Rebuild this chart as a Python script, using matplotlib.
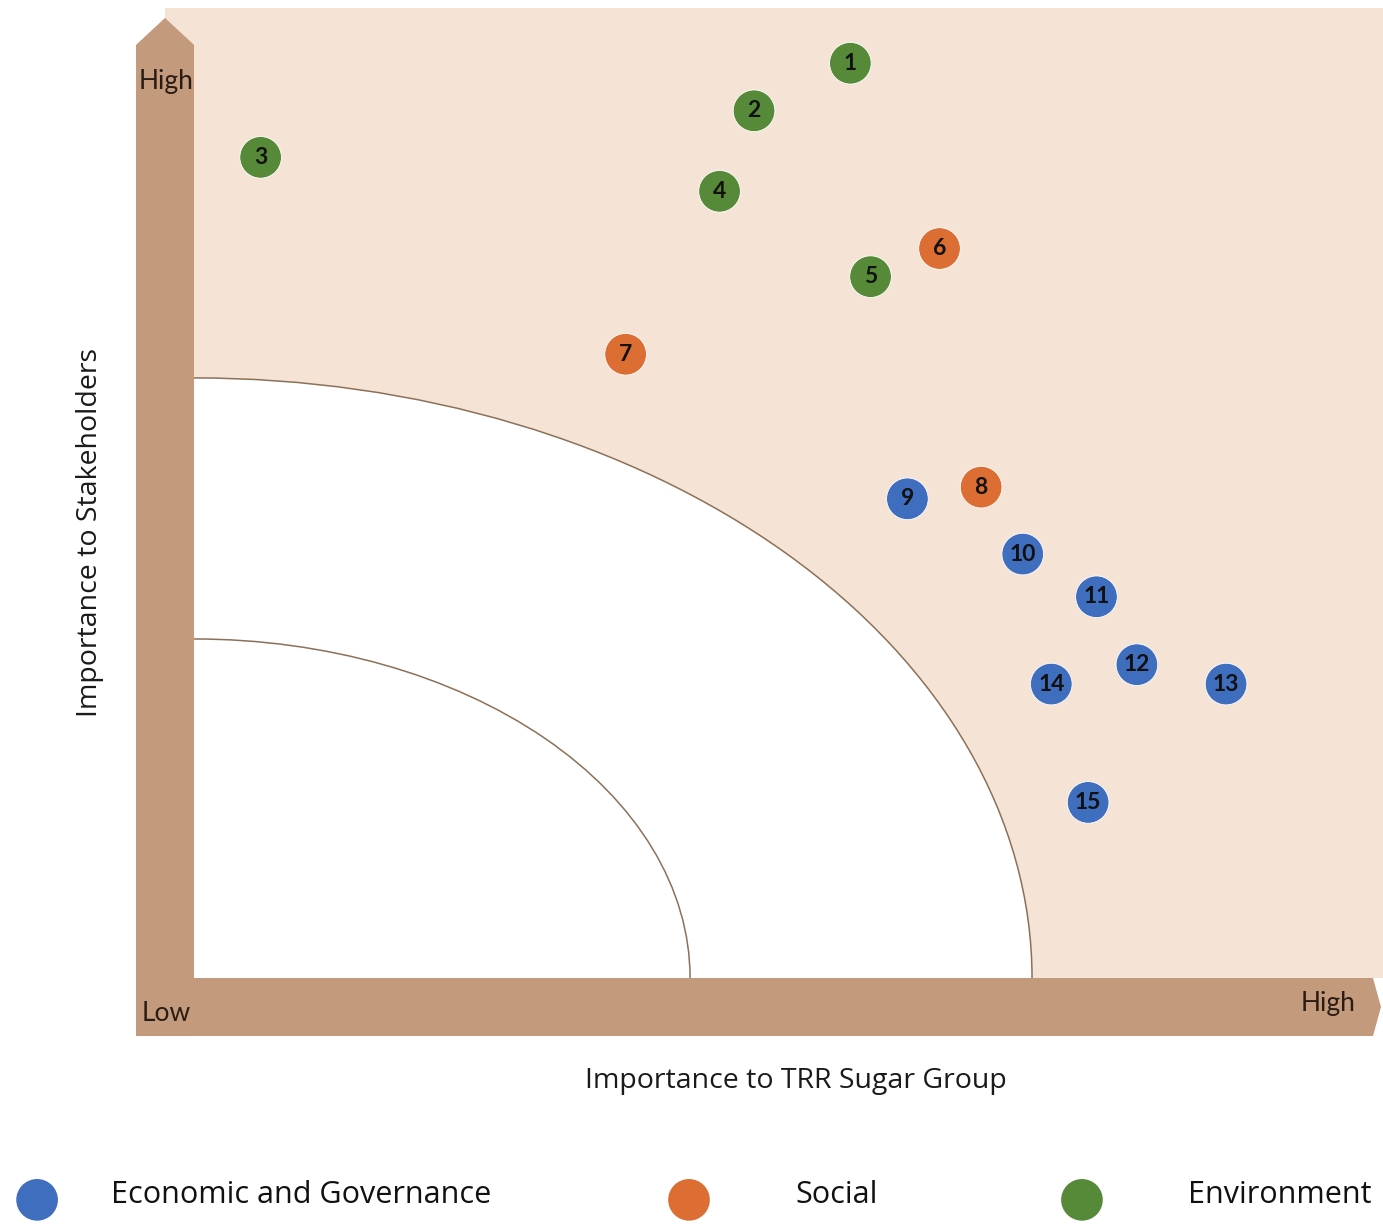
import matplotlib
matplotlib.use("Agg")
import matplotlib.pyplot as plt
from matplotlib.patches import Polygon, Rectangle, Ellipse, Arc

# Material topics: importance to the company (x) and to stakeholders (y), 0-10 scale
topic_ids = ["1", "2", "3", "4", "5", "6", "7", "8", "9", "10", "11", "12", "13", "14", "15"]
company_importance = [5.52, 4.71, 0.56, 4.42, 5.69, 6.27, 3.63, 6.62, 6.00, 6.97, 7.59, 7.93, 8.68, 7.21, 7.52]
stakeholder_importance = [9.43, 8.94, 8.46, 8.11, 7.23, 7.52, 6.43, 5.06, 4.94, 4.37, 3.93, 3.23, 3.03, 3.03, 1.81]
topic_group = ["Environment", "Environment", "Environment", "Environment", "Environment",
               "Social", "Social", "Social",
               "Economic and Governance", "Economic and Governance", "Economic and Governance",
               "Economic and Governance", "Economic and Governance", "Economic and Governance",
               "Economic and Governance"]

group_names = ["Economic and Governance", "Social", "Environment"]
group_colors = {"Economic and Governance": "#3F6EBE",
                "Social": "#DC6E33",
                "Environment": "#578A38"}

BEIGE = "#F5E4D6"
TAN = "#C39A7B"
ARC_COLOR = "#8C7058"

fig = plt.figure(figsize=(13.83, 12.24), dpi=100)
ax = fig.add_axes([0, 0, 1, 1])
ax.set_xlim(-1.632, 10.0)
ax.set_ylim(-2.536, 10.082)
ax.axis("off")

# Shaded quadrant background
ax.add_patch(Rectangle((-0.244, 0), 10.3, 10.0, facecolor=BEIGE, edgecolor="none", zorder=0))

# Low-priority zone and the inner threshold band
ax.add_patch(Ellipse((0, 0), 2 * 7.048, 2 * 6.186, facecolor="white", edgecolor="none", zorder=1))
ax.add_patch(Arc((0, 0), 2 * 7.048, 2 * 6.186, theta1=0, theta2=90,
                 color=ARC_COLOR, lw=1.1, zorder=2))
ax.add_patch(Arc((0, 0), 2 * 4.172, 2 * 3.495, theta1=0, theta2=90,
                 color=ARC_COLOR, lw=1.1, zorder=2))

# Axis arrows
ax.add_patch(Polygon([(-0.488, -0.598), (0, -0.598), (0, 9.619), (-0.244, 9.897), (-0.488, 9.619)],
                     closed=True, facecolor=TAN, edgecolor="none", zorder=3))
ax.add_patch(Polygon([(-0.488, -0.598), (9.916, -0.598), (9.983, -0.299), (9.916, 0), (-0.488, 0)],
                     closed=True, facecolor=TAN, edgecolor="none", zorder=3))

arrow_font = dict(family=["Lato", "DejaVu Sans"], fontsize=19, color="#2a1c14", zorder=4)
ax.text(-0.232, 9.237, "High", ha="center", va="center", **arrow_font)
ax.text(-0.232, -0.361, "Low", ha="center", va="center", **arrow_font)
ax.text(9.537, -0.268, "High", ha="center", va="center", **arrow_font)

label_font = dict(family=["Open Sans", "DejaVu Sans"], fontsize=20.5, color="#1a1a1a")
ax.text(5.063, -1.062, "Importance to TRR Sugar Group", ha="center", va="center", **label_font)
ax.text(-0.876, 4.588, "Importance to Stakeholders", ha="center", va="center",
        rotation=90, **label_font)

# Topic markers
colors = [group_colors[g] for g in topic_group]
ax.scatter(company_importance, stakeholder_importance, s=900, c=colors,
           edgecolors="#ffffff", linewidths=0.6, zorder=5)
for tid, x, y in zip(topic_ids, company_importance, stakeholder_importance):
    ax.text(x, y, tid, ha="center", va="center", fontsize=16.5, fontweight="bold",
            family=["Lato", "DejaVu Sans"], color="#111111", zorder=6)

# Legend row
legend_marker_x = [-1.320, 4.163, 7.468]
legend_text_x = [-0.698, 5.055, 8.360]
legend_y = -2.237
for name, mx, tx in zip(group_names, legend_marker_x, legend_text_x):
    ax.scatter([mx], [legend_y - 0.05], s=900, c=group_colors[name], edgecolors="none", zorder=5)
    ax.text(tx, legend_y + 0.0, name, ha="left", va="center", fontsize=22,
            family=["Open Sans", "DejaVu Sans"], color="#111111")

fig.savefig("out.png", dpi=100)
